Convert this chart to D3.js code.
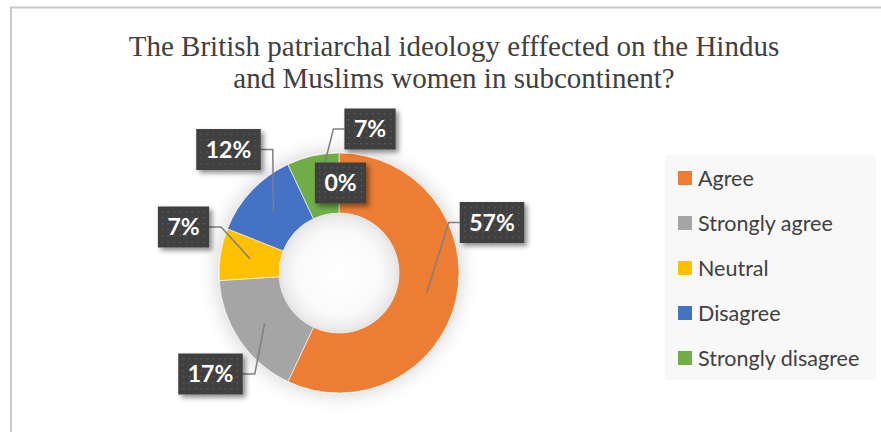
<!DOCTYPE html>
<html>
<head>
<meta charset="utf-8">
<script src="https://cdn.jsdelivr.net/npm/d3@7"></script>
<style>
  html, body { margin: 0; padding: 0; background: #ffffff; }
  svg { display: block; }
</style>
</head>
<body>
<div id="chart"></div>
<script>
// Survey responses
const categories = ["Agree", "Strongly agree", "Neutral", "Disagree", "Strongly disagree", ""];
const values = [57, 17, 7, 12, 7, 0];
const colors = ["#ED7D31", "#A5A5A5", "#FFC000", "#4472C4", "#70AD47", "#255E91"];
const titleLines = [
  "The British patriarchal ideology efffected on the Hindus",
  "and Muslims women in subcontinent?"
];

const W = 881, H = 432;
const cx = 339, cy = 273, rOuter = 120, rInner = 60, rLabel = 90;

const svg = d3.select("#chart").append("svg")
  .attr("width", W).attr("height", H);

const defs = svg.append("defs");

// soft glow around the ring
const glow = defs.append("filter").attr("id", "ringShadow")
  .attr("x", "-30%").attr("y", "-30%").attr("width", "160%").attr("height", "160%");
glow.append("feGaussianBlur").attr("in", "SourceAlpha").attr("stdDeviation", 10).attr("result", "b");
glow.append("feFlood").attr("flood-color", "#000").attr("flood-opacity", 0.2);
glow.append("feComposite").attr("in2", "b").attr("operator", "in").attr("result", "s");
const gm = glow.append("feMerge");
gm.append("feMergeNode").attr("in", "s");
gm.append("feMergeNode").attr("in", "SourceGraphic");

// drop shadow for label boxes
const boxSh = defs.append("filter").attr("id", "boxShadow")
  .attr("x", "-30%").attr("y", "-30%").attr("width", "170%").attr("height", "170%");
boxSh.append("feGaussianBlur").attr("in", "SourceAlpha").attr("stdDeviation", 2.5).attr("result", "b");
boxSh.append("feOffset").attr("in", "b").attr("dx", 3).attr("dy", 3).attr("result", "o");
boxSh.append("feFlood").attr("flood-color", "#000").attr("flood-opacity", 0.45);
boxSh.append("feComposite").attr("in2", "o").attr("operator", "in").attr("result", "s");
const bm = boxSh.append("feMerge");
bm.append("feMergeNode").attr("in", "s");
bm.append("feMergeNode").attr("in", "SourceGraphic");

// dotted texture for label boxes
const pat = defs.append("pattern").attr("id", "dots")
  .attr("patternUnits", "userSpaceOnUse").attr("width", 6).attr("height", 6);
pat.append("rect").attr("width", 6).attr("height", 6).attr("fill", "#3F3F3F");
pat.append("rect").attr("x", 2).attr("y", 2).attr("width", 1.4).attr("height", 1.4).attr("fill", "#5E5E5E");

// shading inside the hole
const holeGrad = defs.append("radialGradient").attr("id", "holeGrad");
holeGrad.append("stop").attr("offset", "0%").attr("stop-color", "#ffffff");
holeGrad.append("stop").attr("offset", "70%").attr("stop-color", "#fafafa");
holeGrad.append("stop").attr("offset", "92%").attr("stop-color", "#ececec");
holeGrad.append("stop").attr("offset", "100%").attr("stop-color", "#e2e2e2");

// chart frame
svg.append("path")
  .attr("d", `M11,${H} L11,7.5 L${W},7.5`)
  .attr("fill", "none").attr("stroke", "#C9C9C9").attr("stroke-width", 2);

// title
svg.append("text")
  .attr("x", 454).attr("y", 56)
  .attr("text-anchor", "middle")
  .attr("font-family", "'Liberation Serif', 'Times New Roman', serif")
  .attr("font-size", 29).attr("fill", "#404040")
  .selectAll("tspan").data(titleLines).join("tspan")
  .attr("x", 454).attr("dy", (d, i) => i === 0 ? 0 : 32)
  .text(d => d);

// ring
const data = categories.map((c, i) => ({ name: c, value: values[i], color: colors[i] }));
const pie = d3.pie().value(d => d.value).sort(null);
const arcs = pie(data);
const arc = d3.arc().innerRadius(rInner).outerRadius(rOuter);

const ring = svg.append("g").attr("transform", `translate(${cx},${cy})`);
ring.append("g").attr("filter", "url(#ringShadow)")
  .selectAll("path").data(arcs.filter(d => d.value > 0)).join("path")
  .attr("d", arc)
  .attr("fill", d => d.data.color)
  .attr("stroke", "#ffffff").attr("stroke-width", 0.6);
ring.append("circle").attr("r", rInner).attr("fill", "url(#holeGrad)");

// label placement (box centre relative to ring centre)
const labelBoxes = [
  { dx: 153, dy: -50.5, side: "left" },
  { dx: -128.5, dy: 101, side: "right" },
  { dx: -155.5, dy: -46, side: "right" },
  { dx: -110.5, dy: -123.5, side: "right" },
  { dx: 31, dy: -144, side: "left" },
  { dx: null, dy: null, side: "none" }
];

const fmt = d => Math.round(d) + "%";
const total = d3.sum(values);
const centroid = a => {
  const m = (a.startAngle + a.endAngle) / 2;
  return [rLabel * Math.sin(m), -rLabel * Math.cos(m)];
};

const lineG = ring.append("g");
const boxG = ring.append("g");

arcs.forEach((a, i) => {
  const lb = labelBoxes[i];
  const txt = fmt(a.value / total * 100);
  const c = centroid(a);
  const bx = lb.side === "none" ? c[0] + 1.5 : lb.dx;
  const by = lb.side === "none" ? c[1] : lb.dy;

  const g = boxG.append("g").attr("transform", `translate(${bx},${by})`);
  const t = g.append("text")
    .attr("text-anchor", "middle").attr("dy", "0.36em")
    .attr("font-family", "Lato, 'Open Sans', sans-serif")
    .attr("font-weight", 700).attr("font-size", 23)
    .attr("fill", "#ffffff")
    .text(txt);
  const w = t.node().getComputedTextLength() + 19;
  const h = 41;
  g.insert("rect", "text")
    .attr("x", -w / 2).attr("y", -h / 2).attr("width", w).attr("height", h)
    .attr("fill", "url(#dots)").attr("filter", "url(#boxShadow)");

  if (lb.side !== "none") {
    const ex = lb.side === "left" ? bx - w / 2 : bx + w / 2;
    const kx = lb.side === "left" ? ex - 11 : ex + 12;
    lineG.append("path")
      .attr("d", `M${ex},${by} L${kx},${by} L${c[0]},${c[1]}`)
      .attr("fill", "none").attr("stroke", "#7F7F7F").attr("stroke-width", 1.5);
  }
});

// legend
const legendItems = data.filter(d => d.name !== "");
const lg = svg.append("g").attr("transform", "translate(665,155)");
lg.append("rect").attr("width", 211).attr("height", 225).attr("fill", "#F8F8F8");
const li = lg.selectAll("g.item").data(legendItems).join("g")
  .attr("class", "item")
  .attr("transform", (d, i) => `translate(13,${23 + i * 45})`);
li.append("rect").attr("x", 0).attr("y", -7).attr("width", 14).attr("height", 14)
  .attr("fill", d => d.color);
li.append("text").attr("x", 20).attr("dy", "0.36em")
  .attr("font-family", "Lato, 'Open Sans', sans-serif")
  .attr("font-size", 21.5).attr("fill", "#404040")
  .text(d => d.name);
</script>
</body>
</html>
